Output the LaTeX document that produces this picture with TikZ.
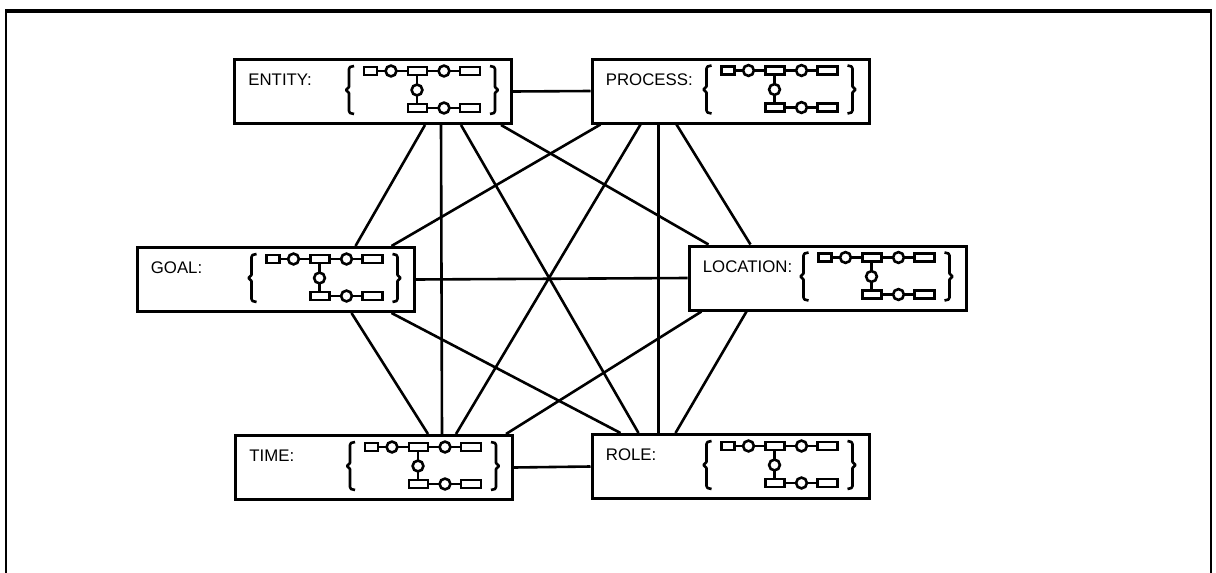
\documentclass[tikz,border=0pt]{standalone}
\usepackage{fontspec}
\setmainfont{Liberation Sans}
\usetikzlibrary{calc}

\tikzset{
  schema/.pic={
    % braces
    \draw[line width=1.3pt, line join=round] (121,8) -- (117,9) -- (116,11) -- (116,29) -- (113,32) -- (116,35) -- (116,53) -- (117,55) -- (121,56);
    \draw[line width=1.3pt, line join=round] (257,8) -- (261,9) -- (262,11) -- (262,29) -- (265,32) -- (262,35) -- (262,53) -- (261,55) -- (257,56);
    % upper row
    \draw[line width=1.3pt] (131,9) rectangle (144,17);
    \draw[line width=1.3pt] (175,9) rectangle (194,17);
    \draw[line width=1.3pt] (227,9) rectangle (247,17);
    \draw[line width=1.3pt] (158,13) circle[radius=2.7pt];
    \draw[line width=1.3pt] (211,13) circle[radius=2.7pt];
    \draw[line width=1.2pt] (144,13) -- (153,13) (163,13) -- (175,13) (194,13) -- (206,13) (216,13) -- (227,13);
    % down link
    \draw[line width=1.2pt] (184,17) -- (184,27) (184,37) -- (184,46);
    \draw[line width=1.3pt] (184,32) circle[radius=2.7pt];
    % lower row
    \draw[line width=1.3pt] (175,46) rectangle (194,54);
    \draw[line width=1.3pt] (227,46) rectangle (247,54);
    \draw[line width=1.3pt] (211,50) circle[radius=2.7pt];
    \draw[line width=1.2pt] (194,50) -- (206,50) (216,50) -- (227,50);
  }
}

\begin{document}
\begin{tikzpicture}[x=0.5pt, y=-0.5pt,
  box/.style={draw, line width=1.5pt, minimum width=138.5pt, minimum height=32pt, inner sep=0pt},
  tag/.style={anchor=west, inner sep=0pt, font=\fontsize{8.4pt}{10pt}\selectfont},
  link/.style={line width=1.3pt}]
\useasboundingbox (0,0) rectangle (1216,573);

% frame
\draw[line width=1.2pt] (6,573) -- (6,11);
\draw[line width=1.2pt] (1211,11) -- (1211,573);
\draw[line width=2pt] (5.4,11) -- (1211.6,11);

\node[box] (entity) at (373,91.5) {};
\node[box] (process) at (730.5,91) {};
\node[box] (goal) at (275.5,279.5) {};
\node[box] (location) at (827.5,278) {};
\node[box] (time) at (374,467.5) {};
\node[box] (role) at (730.5,466.5) {};

\node[tag] (entity-tag) at ([xshift=7.5pt,yshift=-11pt]entity.north west) {ENTITY:};
\node[tag] (process-tag) at ([xshift=7.5pt,yshift=-11pt]process.north west) {PROCESS:};
\node[tag] (goal-tag) at ([xshift=7.5pt,yshift=-11pt]goal.north west) {GOAL:};
\node[tag] (location-tag) at ([xshift=7.5pt,yshift=-11pt]location.north west) {LOCATION:};
\node[tag] (time-tag) at ([xshift=7.5pt,yshift=-11pt]time.north west) {TIME:};
\node[tag] (role-tag) at ([xshift=7.5pt,yshift=-11pt]role.north west) {ROLE:};

\pic at (entity.north west) {schema};
\pic at (process.north west) {schema};
\pic at (goal.north west) {schema};
\pic at (location.north west) {schema};
\pic at (time.north west) {schema};
\pic at (role.north west) {schema};

% horizontal links
\draw[link] (entity.east) -- (process.west);
\draw[link] (goal.east) -- (location.west);
\draw[link] (time.east) -- (role.west);

% links from entity
\draw[link] ([xshift=96pt]entity.south west) -- ([xshift=110pt]goal.north west);
\draw[link] ([xshift=104pt]entity.south west) -- ([xshift=104pt]time.north west);
\draw[link] ([xshift=114pt]entity.south west) -- ([xshift=24pt]role.north west);
\draw[link] ([xshift=134pt]entity.south west) -- ([xshift=10.5pt]location.north west);

% links from process
\draw[link] ([xshift=5pt]process.south west) -- ([xshift=128pt]goal.north west);
\draw[link] ([xshift=25pt]process.south west) -- ([xshift=111pt]time.north west);
\draw[link] ([xshift=34pt]process.south west) -- ([xshift=34pt]role.north west);
\draw[link] ([xshift=43pt]process.south west) -- ([xshift=31.5pt]location.north west);

% links from goal and location
\draw[link] ([xshift=108pt]goal.south west) -- ([xshift=97pt]time.north west);
\draw[link] ([xshift=128pt]goal.south west) -- ([xshift=15pt]role.north west);
\draw[link] ([xshift=7pt]location.south west) -- ([xshift=136pt]time.north west);
\draw[link] ([xshift=29.5pt]location.south west) -- ([xshift=42.5pt]role.north west);
\end{tikzpicture}
\end{document}
